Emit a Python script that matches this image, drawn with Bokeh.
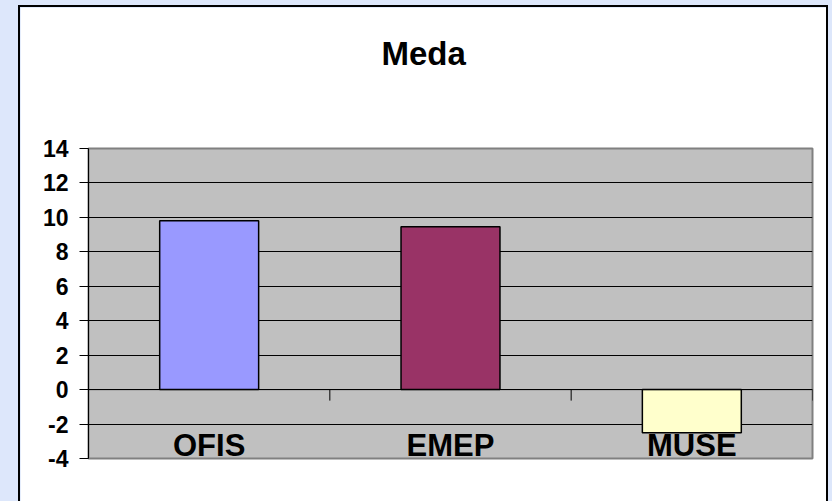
from bokeh.plotting import figure
from bokeh.layouts import column
from bokeh.models import FixedTicker, Range1d, ColumnDataSource, Span, Title
from bokeh.embed import file_html
from bokeh.resources import INLINE
from bokeh.core.properties import value

# chart data
title_text = "Meda"
categories = ["OFIS", "EMEP", "MUSE"]
values = [9.8, 9.45, -2.5]
bar_colors = ["#9999FF", "#993366", "#FFFFCC"]
y_ticks = [-4, -2, 0, 2, 4, 6, 8, 10, 12, 14]

FONT = "Liberation Sans"
PAGE_BG = "#DDE7FB"
FIG_W, FIG_H = 806, 494
BORDER_L, BORDER_R, BORDER_T, BORDER_B = 68, 14, 141, 43
PLOT_H = FIG_H - BORDER_T - BORDER_B
TICK_PX = 11          # length of the category tick marks below the zero line

xs = list(range(len(categories)))
src = ColumnDataSource(dict(x=xs, top=values, color=bar_colors, name=categories))

x0, x1 = -0.5, len(categories) - 0.5
y0, y1 = y_ticks[0], y_ticks[-1]
px_y = (y1 - y0) / PLOT_H

p = figure(
    width=FIG_W, height=FIG_H, output_backend="svg", toolbar_location=None,
    x_range=Range1d(x0, x1), y_range=Range1d(y0, y1),
    x_axis_location=None,
    min_border_left=BORDER_L, min_border_right=BORDER_R,
    min_border_top=BORDER_T, min_border_bottom=BORDER_B,
)
p.margin = (7, 6, 0, 20)
p.styles = {"outline": "2px solid #000", "box-shadow": "2px 0 0 0 #333"}
p.border_fill_color = "white"
p.background_fill_color = "#C0C0C0"
p.outline_line_color = "#808080"
p.outline_line_width = 2

# chart title, centred over the whole chart box, lifted well above the plot
p.add_layout(Title(text=title_text, align="left", offset=293,
                   vertical_align="bottom", standoff=0,
                   padding=dict(left=0, right=0, top=0, bottom=77),
                   text_font=FONT, text_font_style="bold",
                   text_font_size="33px", text_color="black"), "above")

# value axis
yax = p.yaxis[0]
yax.ticker = FixedTicker(ticks=y_ticks)
yax.major_label_overrides = {t: str(t) for t in y_ticks}
yax.major_tick_in = 0
yax.major_tick_out = 9
yax.minor_tick_line_color = None
yax.axis_line_color = "black"
yax.major_tick_line_color = "black"
yax.major_label_standoff = 11
yax.major_label_text_font = FONT
yax.major_label_text_font_style = "bold"
yax.major_label_text_font_size = "23px"
yax.major_label_text_color = "black"

p.xgrid.visible = False
p.ygrid.ticker = FixedTicker(ticks=y_ticks[1:-1])
p.ygrid.grid_line_color = "black"
p.ygrid.grid_line_width = 1

p.vbar(x="x", top="top", bottom=0, width=0.41, fill_color="color",
       line_color="black", line_width=1.5, source=src)

# category axis crossing at zero, with tick marks between categories
p.add_layout(Span(location=0, dimension="width", line_color="black", line_width=1))
bounds = [i - 0.5 for i in range(len(categories) + 1)]
tick_len = TICK_PX * px_y
p.segment(x0=bounds, x1=bounds, y0=[0] * len(bounds), y1=[-tick_len] * len(bounds),
          line_color="black", line_width=1)

p.text(x="x", y=y0, text="name", source=src,
       text_align="center", text_baseline="bottom", y_offset=4,
       text_font=value(FONT), text_font_style="bold",
       text_font_size="31px", text_color="black")

layout = column(p, width=832, height=501,
                styles={"background-color": PAGE_BG})

open("out.html", "w").write(file_html(layout, INLINE))
